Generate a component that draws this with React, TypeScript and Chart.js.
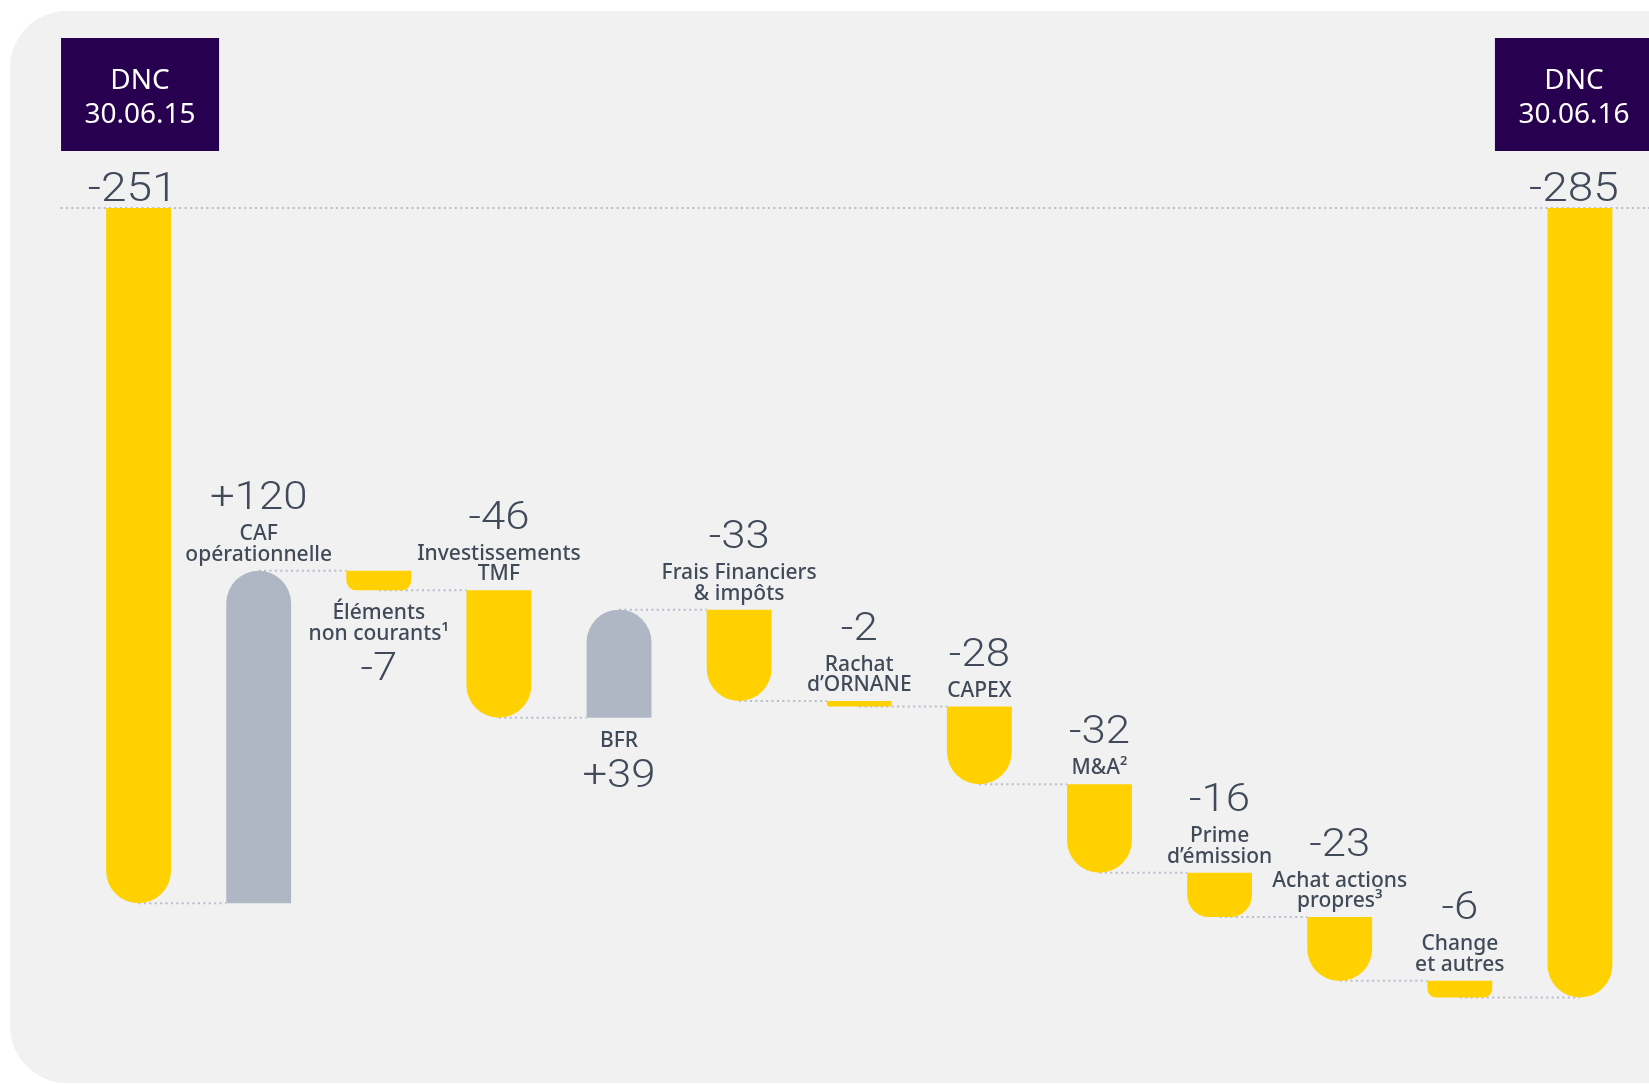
import React, { useEffect, useRef } from "react";
import { Chart, registerables } from "chart.js";

Chart.register(...registerables);

// ---- Data ----
const categories: string[][] = [
  ["DNC", "30.06.15"],
  ["CAF", "opérationnelle"],
  ["Éléments", "non courants¹"],
  ["Investissements", "TMF"],
  ["BFR"],
  ["Frais Financiers", "& impôts"],
  ["Rachat", "d’ORNANE"],
  ["CAPEX"],
  ["M&A²"],
  ["Prime", "d’émission"],
  ["Achat actions", "propres³"],
  ["Change", "et autres"],
  ["DNC", "30.06.16"],
];
const values: number[] = [-251, 120, -7, -46, 39, -33, -2, -28, -32, -16, -23, -6, -285];
const valueLabels: string[] = ["-251", "+120", "-7", "-46", "+39", "-33", "-2", "-28", "-32", "-16", "-23", "-6", "-285"];
const isTotal: boolean[] = [true, false, false, false, false, false, false, false, false, false, false, false, true];
const labelBelow: boolean[] = [false, false, true, false, true, false, false, false, false, false, false, false, false];

// ---- Styles ----
const YELLOW = "#FFD100";
const GREY = "#B0B7C4";
const PURPLE = "#27004F";
const TEXT = "#414A59";
const DOTS = "#B6BDCA";

function buildFloating(): [number, number][] {
  const out: [number, number][] = [];
  let run = 0;
  values.forEach((v, i) => {
    if (isTotal[i]) {
      out.push([0, v]);
      run = v;
    } else {
      out.push([run, run + v]);
      run = run + v;
    }
  });
  return out;
}

const waterfallPlugin = {
  id: "waterfallDeco",
  beforeDatasetsDraw(chart: any) {
    const ctx = chart.ctx as CanvasRenderingContext2D;
    const meta = chart.getDatasetMeta(0);
    const ys = chart.scales.y;
    const floating = chart.data.datasets[0].data as [number, number][];
    ctx.save();
    ctx.strokeStyle = DOTS;
    ctx.lineWidth = 2;
    ctx.setLineDash([2, 3.4]);
    const y0 = ys.getPixelForValue(0);
    const first = meta.data[0];
    ctx.beginPath();
    ctx.moveTo(first.x - 78, y0);
    ctx.lineTo(chart.width, y0);
    ctx.stroke();
    for (let i = 0; i < meta.data.length - 1; i++) {
      const a = meta.data[i];
      const b = meta.data[i + 1];
      const level = floating[i][1];
      const yp = ys.getPixelForValue(level);
      const x2 = isTotal[i + 1] ? b.x : b.x - b.width / 2;
      ctx.beginPath();
      ctx.moveTo(a.x, yp);
      ctx.lineTo(x2, yp);
      ctx.stroke();
    }
    ctx.restore();
  },
  afterDatasetsDraw(chart: any) {
    const ctx = chart.ctx as CanvasRenderingContext2D;
    const meta = chart.getDatasetMeta(0);
    const ys = chart.scales.y;
    const y0 = ys.getPixelForValue(0);
    const drawValue = (txt: string, x: number, y: number, size: number) => {
      ctx.save();
      ctx.translate(x, y);
      ctx.scale(1.15, 1);
      ctx.font = `300 ${size}px Roboto, "Noto Sans", sans-serif`;
      ctx.fillStyle = TEXT;
      ctx.textAlign = "center";
      ctx.textBaseline = "alphabetic";
      ctx.fillText(txt, 0, 0);
      ctx.restore();
    };
    ctx.save();
    meta.data.forEach((el: any, i: number) => {
      const top = Math.min(el.y, el.base);
      const bottom = Math.max(el.y, el.base);
      const x = el.x;
      if (isTotal[i]) {
        const bw = 158, bh = 113, bt = 38;
        const cx = i === 0 ? x + 1.5 : x - 6;
        ctx.fillStyle = PURPLE;
        ctx.fillRect(cx - bw / 2, bt, bw, bh);
        ctx.fillStyle = "#FFFFFF";
        ctx.font = '28px "Noto Sans", sans-serif';
        ctx.textAlign = "center";
        ctx.textBaseline = "alphabetic";
        ctx.fillText(categories[i][0], cx, bt + 51);
        ctx.fillText(categories[i][1], cx, bt + 85);
        drawValue(valueLabels[i], x - 6, y0 - 7, 40);
        return;
      }
      const lines = categories[i];
      ctx.font = '500 21px "Noto Sans", sans-serif';
      ctx.fillStyle = TEXT;
      ctx.textAlign = "center";
      ctx.textBaseline = "alphabetic";
      const lh = 20.5;
      if (labelBelow[i]) {
        const by = bottom + 29;
        lines.forEach((ln, k) => {
          ctx.fillText(ln, x, by + k * lh);
        });
        const last = by + (lines.length - 1) * lh;
        drawValue(valueLabels[i], x, last + 40, 38);
      } else {
        const lastBase = top - 10;
        const firstBase = lastBase - (lines.length - 1) * lh;
        lines.forEach((ln, k) => {
          ctx.fillText(ln, x, firstBase + k * lh);
        });
        drawValue(valueLabels[i], x, firstBase - 31, 38);
      }
    });
    ctx.restore();
  },
};

export default function App() {
  const canvasRef = useRef<HTMLCanvasElement | null>(null);

  useEffect(() => {
    if (!canvasRef.current) return;
    const floating = buildFloating();
    const chart = new Chart(canvasRef.current, {
      type: "bar",
      data: {
        labels: categories.map((c) => c.join(" ")),
        datasets: [
          {
            data: floating as any,
            backgroundColor: (c: any) => {
              const i = c.dataIndex;
              return !isTotal[i] && values[i] > 0 ? GREY : YELLOW;
            },
            borderSkipped: false,
            borderRadius: (c: any) => {
              const i = c.dataIndex;
              const up = !isTotal[i] && values[i] > 0;
              const r = 34;
              return up
                ? { topLeft: r, topRight: r, bottomLeft: 0, bottomRight: 0 }
                : { topLeft: 0, topRight: 0, bottomLeft: r, bottomRight: r };
            },
            barPercentage: 0.54,
            categoryPercentage: 1,
          } as any,
        ],
      },
      options: {
        responsive: true,
        maintainAspectRatio: false,
        animation: false,
        layout: { padding: { left: 78.5, right: 9, top: 208, bottom: 45 } },
        plugins: { legend: { display: false }, tooltip: { enabled: false } },
        scales: {
          x: { display: false },
          y: { display: false, min: -300, max: 0 },
        },
      },
      plugins: [waterfallPlugin],
    });
    return () => chart.destroy();
  }, []);

  return (
    <div
      style={{
        position: "fixed",
        left: 0,
        top: 0,
        width: 1649,
        height: 1084,
        background: "#FFFFFF",
        overflow: "hidden",
      }}
    >
      <div
        style={{
          position: "absolute",
          left: 10,
          top: 11,
          width: 1720,
          height: 1072,
          borderRadius: 57,
          background: "#F1F1F1",
        }}
      />
      <div style={{ position: "absolute", left: 0, top: 0, width: 1649, height: 1084 }}>
        <canvas ref={canvasRef} />
      </div>
    </div>
  );
}
